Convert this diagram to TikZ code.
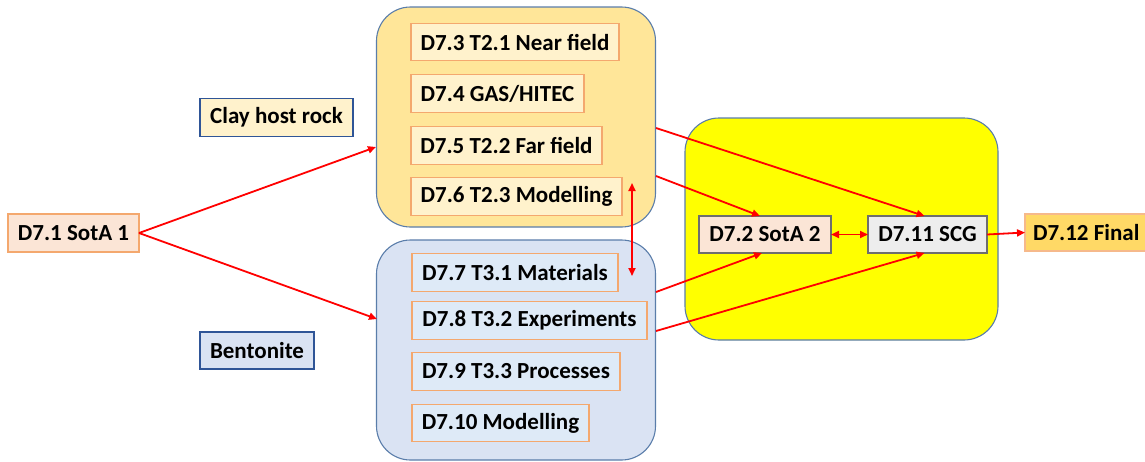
\documentclass[tikz,border=0pt]{standalone}
\usepackage{fontspec}
\setmainfont{Carlito}
\usetikzlibrary{arrows.meta}
\definecolor{clayfill}{HTML}{FFE699}
\definecolor{clayin}{HTML}{FFF2CC}
\definecolor{benfill}{HTML}{DAE3F3}
\definecolor{benin}{HTML}{DEEAF7}
\definecolor{bigedge}{HTML}{5A7DAA}
\definecolor{orangeedge}{HTML}{F4A86E}
\definecolor{labedge}{HTML}{2F5597}
\definecolor{sotafill}{HTML}{FBE5D6}
\definecolor{grayedge}{HTML}{6E6E6E}
\definecolor{scgfill}{HTML}{EDEDED}
\definecolor{finalfill}{HTML}{FFD966}
\definecolor{arrred}{HTML}{FF0000}
\definecolor{pureyellow}{HTML}{FFFF00}
\begin{document}
\begin{tikzpicture}[x=1pt,y=-1pt,
  font=\fontsize{23}{27}\selectfont\bfseries,
  every node/.style={inner sep=0pt, outer sep=0pt, text=black},
  bigbox/.style={draw=bigedge, line width=1.1pt, rounded corners=34pt},
  inbox/.style={draw=orangeedge, line width=1.2pt, minimum height=37.5},
  labbox/.style={draw=labedge, line width=1.3pt, minimum height=38},
  graybox/.style={draw=grayedge, line width=1.2pt, minimum height=37},
  arr/.style={draw=arrred, line width=1.8pt, -{Triangle[length=8pt,width=7pt]}},
  darr/.style={draw=arrred, line width=1.8pt, {Triangle[length=8pt,width=7pt]}-{Triangle[length=8pt,width=7pt]}}]
\useasboundingbox (0,0) rectangle (1145,461);
% big containers
\node[bigbox, fill=clayfill, minimum width=279, minimum height=220] (clay) at (516,117) {};
\node[bigbox, fill=benfill, minimum width=279, minimum height=220] (ben) at (516,350) {};
\node[bigbox, fill=pureyellow, minimum width=313, minimum height=222] (ysyn) at (841.5,229) {};
% clay inner boxes
\node[inbox, fill=clayin, minimum width=208] (d73) at (515,42) {D7.3 T2.1 Near field};
\node[inbox, fill=clayin, minimum width=173] (d74) at (497.5,93.5) {D7.4 GAS/HITEC};
\node[inbox, fill=clayin, minimum width=191] (d75) at (506.5,145.5) {D7.5 T2.2 Far field};
\node[inbox, fill=clayin, minimum width=211] (d76) at (516.5,196.5) {D7.6 T2.3 Modelling};
% bentonite inner boxes
\node[inbox, fill=benin, minimum width=206] (d77) at (515,272.5) {D7.7 T3.1 Materials};
\node[inbox, fill=benin, minimum width=235] (d78) at (529.5,320.5) {D7.8 T3.2 Experiments};
\node[inbox, fill=benin, minimum width=208] (d79) at (516,371.5) {D7.9 T3.3 Processes};
\node[inbox, fill=benin, minimum width=177] (d710) at (500.5,423) {D7.10 Modelling};
% labels
\node[labbox, fill=clayin, minimum width=153] (lclay) at (276.5,117.5) {Clay host rock};
\node[labbox, fill=benfill, minimum width=114, minimum height=37] (lben) at (257,350.5) {Bentonite};
% left / right boxes
\node[inbox, fill=sotafill, minimum width=131, minimum height=38] (d71) at (73.5,233) {D7.1 SotA 1};
\node[graybox, fill=sotafill, minimum width=132] (d72) at (765,234.5) {D7.2 SotA 2};
\node[graybox, fill=scgfill, minimum width=119] (d711) at (927.5,234.5) {D7.11 SCG};
\node[inbox, fill=finalfill, draw=orangeedge!80, minimum width=140, minimum height=37, anchor=west, inner xsep=8pt, align=left] (d712) at (1025,232.5) {D7.12 Final\hspace{20pt}};
% coordinates on container edges
\coordinate (ca) at (376,147);
\coordinate (ba) at (377,319);
\coordinate (vt) at (632,183);
\coordinate (vb) at (632,276);
\coordinate (c1) at (656,128);
\coordinate (c2) at (656,176);
\coordinate (b1) at (656,292);
\coordinate (b2) at (656,331);
% arrows
\draw[arr] (d71.east) -- (ca);
\draw[arr] (d71.east) -- (ba);
\draw[darr] (vt) -- (vb);
\draw[arr] (c1) -- ([xshift=-3pt]d711.north);
\draw[arr] (c2) -- ([xshift=-5pt]d72.north);
\draw[arr] (b1) -- ([xshift=-3pt]d72.south);
\draw[arr] (b2) -- ([xshift=-3pt]d711.south);
\draw[darr] (d72.east) -- (d711.west);
\draw[arr] (d711.east) -- (d712.west);
\end{tikzpicture}
\end{document}
